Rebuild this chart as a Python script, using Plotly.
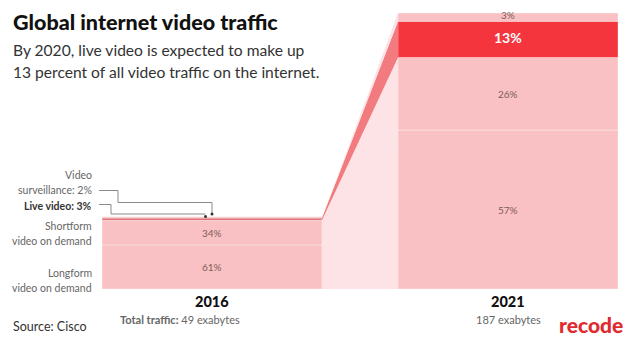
import plotly.graph_objects as go

# ---- data ----
years = ["2016", "2021"]
totals = [49, 187]  # exabytes
segments = ["Longform video on demand", "Shortform video on demand", "Live video", "Video surveillance"]
pct_2016 = [61, 34, 3, 2]
pct_2021 = [57, 26, 13, 3]
total_labels = ["<b>Total traffic:</b> 49 exabytes", "187 exabytes"]

# ---- styling ----
OFF = 8  # page body margin
W, H = 640 - OFF, 357 - OFF
PINK = "#f9c1c3"
LIVE_2016 = "#dc6a70"
LIVE_2021 = "#f4353e"
CONN_PINK = "#fde3e5"
CONN_RED = "#f27b7f"
PCT_COLOR = "#7d5b5b"
FONT = "Lato"

bar_w = 220 / 296
x_range = [(OFF - 212) / 296, (640 - 212) / 296]
scale = 1.476
y_range = [(289 - 357) / scale, (289 - OFF) / scale]

def px(x):
    return (x - OFF) / W

def py(y):
    return 1 - (y - OFF) / H

def seg_values(pcts, total):
    s = sum(pcts)
    return [p / s * total for p in pcts]

vals = [seg_values(pct_2016, totals[0]), seg_values(pct_2021, totals[1])]

def cum(v):
    out, b = [], 0
    for a in v:
        out.append((b, b + a))
        b += a
    return out

c16, c21 = cum(vals[0]), cum(vals[1])

fig = go.Figure()

# connectors
x0r = 0 + bar_w / 2
x1l = 1 - bar_w / 2
for i, seg in enumerate(segments):
    (b0, t0), (b1, t1) = c16[i], c21[i]
    col = CONN_RED if seg == "Live video" else CONN_PINK
    fig.add_trace(go.Scatter(
        x=[x0r, x1l, x1l, x0r, x0r], y=[b0, b1, t1, t0, b0],
        fill="toself", fillcolor=col, mode="lines", line=dict(width=0),
        hoverinfo="skip", showlegend=False))

# bars
colors_2016 = [PINK, PINK, LIVE_2016, PINK]
colors_2021 = [PINK, PINK, LIVE_2021, PINK]
for i, seg in enumerate(segments):
    fig.add_trace(go.Bar(
        x=[0, 1], y=[vals[0][i], vals[1][i]], base=[c16[i][0], c21[i][0]],
        width=bar_w, name=seg,
        marker=dict(color=[colors_2016[i], colors_2021[i]],
                    line=dict(color="rgba(255,255,255,0.45)", width=0.8)),
        showlegend=False, hoverinfo="skip"))

annotations = []

def ann(text, x, y, size, color, xanchor="center", xref="paper", yref="paper",
        family=FONT, weight="normal"):
    annotations.append(dict(x=x, y=y, xref=xref, yref=yref, xanchor=xanchor, yanchor="middle",
                            text=text, showarrow=False,
                            font=dict(family=family, size=size, color=color, weight=weight)))

# percent labels
for i in range(2):
    pcts = [pct_2016, pct_2021][i]
    cc = [c16, c21][i]
    for j, p in enumerate(pcts):
        if i == 0 and j >= 2:
            continue
        bold = (i == 1 and segments[j] == "Live video")
        ann(f"<b>{p}%</b>" if bold else f"{p}%", i,
            (cc[j][0] + cc[j][1]) / 2 + (1.2 if i == 1 and j >= 2 else 0),
            14 if bold else 10, "white" if bold else PCT_COLOR, xref="x", yref="y")

# year labels and totals
for i, yr in enumerate(years):
    ann(yr, i, py(301), 14.5, "#111", xref="x", weight=900)
ann(total_labels[0], px(180), py(319), 11, "#666")
ann(total_labels[1], 1, py(319), 11, "#666", xref="x")

# title / subtitle
ann("Global internet video traffic", px(11), py(22), 21.5, "#111", xanchor="left", weight=900)
for txt, yy in [("By 2020, live video is expected to make up", 50),
                ("13 percent of all video traffic on the internet.", 72)]:
    ann(txt, px(11), py(yy), 15.6, "#333", xanchor="left")

# left labels
left_labels = [("Video", 175, False), ("surveillance: 2%", 190.5, False),
               ("Live video: 3%", 205.5, True), ("Shortform", 225.5, False),
               ("video on demand", 241, False), ("Longform", 272.5, False),
               ("video on demand", 287.5, False)]
for txt, yy, b in left_labels:
    ann(f"<b>{txt}</b>" if b else txt, px(94), py(yy), 10.5,
        "#333" if b else "#666", xanchor="right")

# source and logo
ann("Source: Cisco", px(11), py(326), 12.5, "#333", xanchor="left")
ann("recode", px(591), py(324), 21, "#e02a2f", weight=900)

# leader lines
shapes = []
def path(points):
    d = "M " + " L ".join(f"{px(x)},{py(y)}" for x, y in points)
    return dict(type="path", path=d, xref="paper", yref="paper",
                line=dict(color="#8a8a8a", width=1))
shapes.append(path([(99, 190.5), (118, 190.5), (118, 202.5), (212, 202.5), (212, 213)]))
shapes.append(path([(99, 204.5), (111, 204.5), (111, 214), (205.5, 214)]))
for (x, y) in [(212, 214), (205.5, 216.5)]:
    shapes.append(dict(type="circle", xref="paper", yref="paper",
                       x0=px(x - 1.5), x1=px(x + 1.5), y0=py(y - 1.5), y1=py(y + 1.5),
                       fillcolor="#333", line=dict(width=0)))

fig.update_layout(
    width=W, height=H, margin=dict(l=0, r=0, t=0, b=0, pad=0),
    paper_bgcolor="white", plot_bgcolor="white", barmode="overlay",
    xaxis=dict(range=x_range, visible=False, fixedrange=True),
    yaxis=dict(range=y_range, visible=False, fixedrange=True),
    annotations=annotations, shapes=shapes, showlegend=False,
)

fig.write_html("out.html")
